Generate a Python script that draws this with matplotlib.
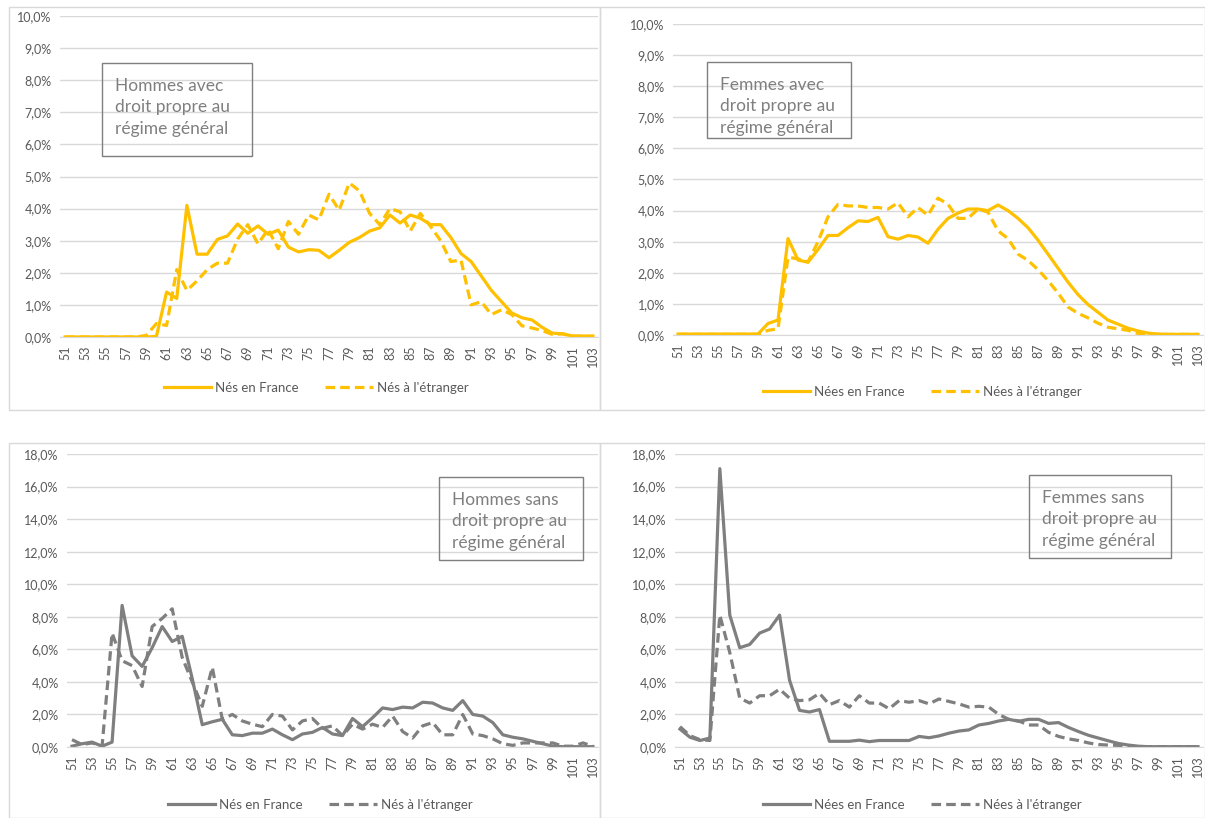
import matplotlib
matplotlib.use('Agg')
import matplotlib.pyplot as plt
from matplotlib.patches import Rectangle
from matplotlib.ticker import FuncFormatter
import numpy as np

plt.rcParams['font.family'] = ['Lato', 'DejaVu Sans']

ages = list(range(51, 104))

# Hommes avec droit propre au régime général
h_avec_france = [0, 0, 0, 0, 0, 0, 0, 0, 0, 0.02, 1.4, 1.2, 4.1, 2.58, 2.58, 3.04, 3.15, 3.52, 3.23, 3.46,
                 3.2, 3.33, 2.8, 2.65, 2.72, 2.7, 2.47, 2.7, 2.95, 3.1, 3.3, 3.4, 3.8, 3.55, 3.8, 3.7,
                 3.5, 3.5, 3.1, 2.6, 2.35, 1.9, 1.45, 1.1, 0.75, 0.6, 0.53, 0.3, 0.12, 0.1, 0.03, 0.03, 0.03]
h_avec_etranger = [0, 0, 0, 0, 0, 0, 0, 0, 0.05, 0.42, 0.36, 2.1, 1.45, 1.75, 2.1, 2.3, 2.3, 3.05, 3.5, 2.9,
                   3.35, 2.75, 3.6, 3.2, 3.8, 3.65, 4.45, 3.95, 4.8, 4.55, 3.85, 3.5, 4.0, 3.9, 3.3, 3.85,
                   3.45, 3.0, 2.35, 2.4, 1.0, 1.1, 0.7, 0.85, 0.7, 0.35, 0.28, 0.2, 0.08, 0.1, 0.03, 0.02, 0.02]

# Femmes avec droit propre au régime général
f_avec_france = [0.03, 0.03, 0.03, 0.03, 0.03, 0.03, 0.03, 0.03, 0.03, 0.37, 0.48, 3.1, 2.41, 2.34, 2.75,
                 3.2, 3.2, 3.45, 3.67, 3.65, 3.78, 3.16, 3.08, 3.2, 3.15, 2.95, 3.4, 3.75, 3.92, 4.05, 4.05,
                 4.0, 4.18, 4.0, 3.75, 3.45, 3.05, 2.6, 2.15, 1.7, 1.3, 0.98, 0.73, 0.48, 0.35, 0.22, 0.13,
                 0.06, 0.03, 0.02, 0.02, 0.02, 0.02]
f_avec_etranger = [0.02, 0.02, 0.02, 0.02, 0.02, 0.02, 0.02, 0.02, 0.02, 0.15, 0.2, 2.5, 2.45, 2.35, 3.0,
                   3.8, 4.2, 4.15, 4.15, 4.1, 4.1, 4.05, 4.25, 3.8, 4.1, 3.85, 4.4, 4.2, 3.75, 3.75, 4.05,
                   3.95, 3.35, 3.1, 2.6, 2.4, 2.1, 1.75, 1.35, 0.9, 0.7, 0.55, 0.38, 0.25, 0.2, 0.15, 0.05,
                   0.03, 0.02, 0.02, 0.02, 0.02, 0.02]

# Hommes sans droit propre au régime général
h_sans_france = [0.05, 0.2, 0.3, 0.05, 0.3, 8.7, 5.6, 4.95, 6.1, 7.4, 6.48, 6.8, 4.2, 1.37, 1.55, 1.7,
                 0.75, 0.7, 0.85, 0.85, 1.1, 0.75, 0.45, 0.8, 0.9, 1.2, 0.8, 0.7, 1.75, 1.25, 1.8, 2.4,
                 2.3, 2.45, 2.4, 2.75, 2.7, 2.4, 2.25, 2.85, 2.0, 1.9, 1.5, 0.75, 0.6, 0.5, 0.35, 0.2,
                 0.05, 0.02, 0.02, 0.02, 0.02]
h_sans_etranger = [0.45, 0.15, 0.25, 0.05, 7.0, 5.3, 5.0, 3.72, 7.4, 7.9, 8.49, 5.5, 4.0, 2.5, 4.9, 1.7,
                   2.0, 1.6, 1.4, 1.25, 2.0, 1.9, 1.05, 1.6, 1.75, 1.15, 1.3, 0.7, 1.4, 1.1, 1.4, 1.2,
                   1.9, 0.95, 0.55, 1.3, 1.5, 0.75, 0.75, 2.0, 0.8, 0.7, 0.5, 0.2, 0.1, 0.25, 0.25, 0.25,
                   0.25, 0.05, 0.05, 0.25, 0.05]

# Femmes sans droit propre au régime général
f_sans_france = [1.1, 0.6, 0.4, 0.55, 17.1, 8.1, 6.1, 6.3, 7.0, 7.25, 8.1, 4.1, 2.25, 2.15, 2.3, 0.35,
                 0.35, 0.35, 0.42, 0.33, 0.4, 0.4, 0.4, 0.4, 0.65, 0.57, 0.68, 0.85, 0.98, 1.05, 1.35,
                 1.45, 1.6, 1.7, 1.58, 1.7, 1.7, 1.45, 1.5, 1.2, 0.95, 0.72, 0.55, 0.38, 0.22, 0.12, 0.05,
                 0.02, 0.02, 0.02, 0.02, 0.02, 0.02]
f_sans_etranger = [1.25, 0.7, 0.45, 0.4, 8.1, 5.8, 3.0, 2.7, 3.15, 3.15, 3.55, 3.0, 2.85, 2.9, 3.3, 2.6,
                   2.85, 2.45, 3.15, 2.7, 2.7, 2.35, 2.85, 2.75, 2.85, 2.65, 2.95, 2.8, 2.65, 2.45, 2.5,
                   2.45, 2.0, 1.7, 1.6, 1.35, 1.35, 0.9, 0.65, 0.5, 0.4, 0.25, 0.15, 0.12, 0.1, 0.05, 0.02,
                   0.02, 0.02, 0.02, 0.02, 0.02, 0.02]

YELLOW = '#FFC000'
GREY = '#7F7F7F'
TEXT = '#595959'
W, H = 1205, 818

fig = plt.figure(figsize=(W / 100, H / 100), dpi=100)


def px_rect(x0, y0, x1, y1):
    # pixel box (top-left origin) -> figure fraction [left, bottom, width, height]
    return [x0 / W, 1 - y1 / H, (x1 - x0) / W, (y1 - y0) / H]


def border(x0, y0, x1, y1):
    fig.patches.append(Rectangle((x0 / W, 1 - y1 / H), (x1 - x0) / W, (y1 - y0) / H,
                                 transform=fig.transFigure, fill=False,
                                 edgecolor='#D9D9D9', lw=1))


pct = FuncFormatter(lambda v, _: f"{v:.1f}".replace('.', ',') + '%')


def panel(plot_box, ymax, ystep, france, etranger, color, labels, note, note_box, legend_x, legend_y):
    ax = fig.add_axes(px_rect(*plot_box))
    x = np.arange(len(ages))
    ax.plot(x, france, color=color, lw=2.3, label=labels[0], solid_joinstyle='round')
    ax.plot(x, etranger, color=color, lw=2.3, ls=(0, (3, 1.6)), label=labels[1])
    ax.set_xlim(-0.5, len(ages) - 0.5)
    ax.set_ylim(0, ymax)
    ax.set_yticks(np.arange(0, ymax + ystep / 2, ystep))
    ax.yaxis.set_major_formatter(pct)
    ax.set_xticks(x[::2])
    ax.set_xticklabels([str(a) for a in ages[::2]], rotation=90)
    ax.tick_params(axis='both', length=0, labelsize=9, colors=TEXT, pad=6)
    ax.grid(axis='y', color='#D9D9D9', lw=1)
    ax.set_axisbelow(True)
    for s in ['top', 'right', 'left']:
        ax.spines[s].set_visible(False)
    ax.spines['bottom'].set_color('#D9D9D9')
    ax.set_facecolor('none')

    bx0, by0, bx1, by1 = note_box
    fig.patches.append(Rectangle((bx0 / W, 1 - by1 / H), (bx1 - bx0) / W, (by1 - by0) / H,
                                 transform=fig.transFigure, fill=False,
                                 edgecolor='#7F7F7F', lw=1))
    fig.text((bx0 + 13) / W, 1 - (by0 + 15) / H, note, ha='left', va='top',
             fontsize=12.5, color='#7F7F7F', linespacing=1.42)

    ax.legend(loc='center', bbox_to_anchor=(legend_x / W, 1 - legend_y / H),
              bbox_transform=fig.transFigure, ncol=2, frameon=False,
              fontsize=9.5, labelcolor=TEXT, handlelength=3.6, columnspacing=2.0,
              handletextpad=0.3)
    return ax


border(9, 7, 600, 410)
border(600, 7, 1205, 410)
border(9, 443, 600, 818)
border(600, 443, 1205, 818)

panel((60, 16, 598, 337), 10, 1, h_avec_france, h_avec_etranger, YELLOW,
      ['Nés en France', "Nés à l'étranger"],
      'Hommes avec\ndroit propre au\nrégime général', (102, 63, 252, 156), 316, 388)
panel((673, 24, 1203, 335), 10, 1, f_avec_france, f_avec_etranger, YELLOW,
      ['Nées en France', "Nées à l'étranger"],
      'Femmes avec\ndroit propre au\nrégime général', (707, 62, 851, 138), 922, 392)
panel((67, 454, 598, 747), 18, 2, h_sans_france, h_sans_etranger, GREY,
      ['Nés en France', "Nés à l'étranger"],
      'Hommes sans\ndroit propre au\nrégime général', (439, 477, 583, 560), 320, 805)
panel((675, 454, 1203, 747), 18, 2, f_sans_france, f_sans_etranger, GREY,
      ['Nées en France', "Nées à l'étranger"],
      'Femmes sans\ndroit propre au\nrégime général', (1029, 475, 1171, 558), 922, 805)

fig.savefig('out.png', dpi=100)
